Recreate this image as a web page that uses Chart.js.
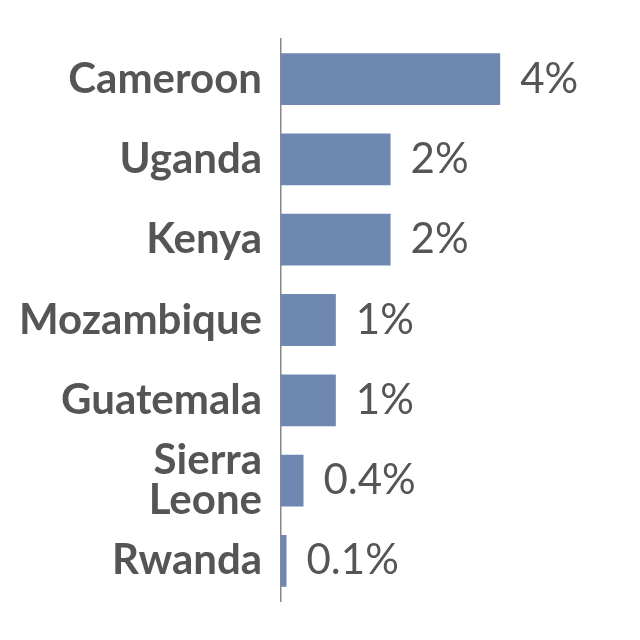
<!DOCTYPE html>
<html>
<head>
<meta charset="utf-8">
<script src="https://cdn.jsdelivr.net/npm/chart.js@4/dist/chart.umd.min.js"></script>
<style>
  html, body { margin: 0; padding: 0; background: #fff; }
  #wrap { width: 640px; height: 640px; }
</style>
</head>
<body>
<div id="wrap"><canvas id="chart"></canvas></div>
<script>
var countries = ['Cameroon', 'Uganda', 'Kenya', 'Mozambique', 'Guatemala', ['Sierra', 'Leone'], 'Rwanda']
var shares = [4, 2, 2, 1, 1, 0.41, 0.1]
var shareLabels = ['4%', '2%', '2%', '1%', '1%', '0.4%', '0.1%']

// writes the value text just past the end of each bar
var valueLabels = {
  id: 'valueLabels',
  afterDatasetsDraw(chart) {
    var ctx = chart.ctx
    ctx.save()
    ctx.font = '42px Lato'
    ctx.fillStyle = '#555555'
    ctx.textAlign = 'left'
    ctx.textBaseline = 'middle'
    chart.getDatasetMeta(0).data.forEach((bar, i) => {
      ctx.fillText(shareLabels[i], bar.x + 20, bar.y)
    })
    ctx.restore()
  }
}

new Chart(document.getElementById('chart'), {
  type: 'bar',
  data: {
    labels: countries,
    datasets: [{
      data: shares,
      backgroundColor: '#6e88b1',
      categoryPercentage: 1,
      barPercentage: 0.645
    }]
  },
  options: {
    indexAxis: 'y',
    responsive: true,
    maintainAspectRatio: false,
    animation: false,
    layout: { padding: { top: -6, bottom: -3, right: 10, left: 0 } },
    plugins: { legend: { display: false }, tooltip: { enabled: false } },
    scales: {
      x: { display: false, min: 0, max: 6.37 },
      y: {
        grid: { display: false, drawTicks: false },
        border: { display: true, color: '#888888', width: 1.5 },
        ticks: {
          color: '#555555',
          padding: 19,
          font: { family: 'Lato', size: 42, weight: 'bold', lineHeight: 0.95 }
        }
      }
    }
  },
  plugins: [valueLabels]
})
</script>
</body>
</html>
